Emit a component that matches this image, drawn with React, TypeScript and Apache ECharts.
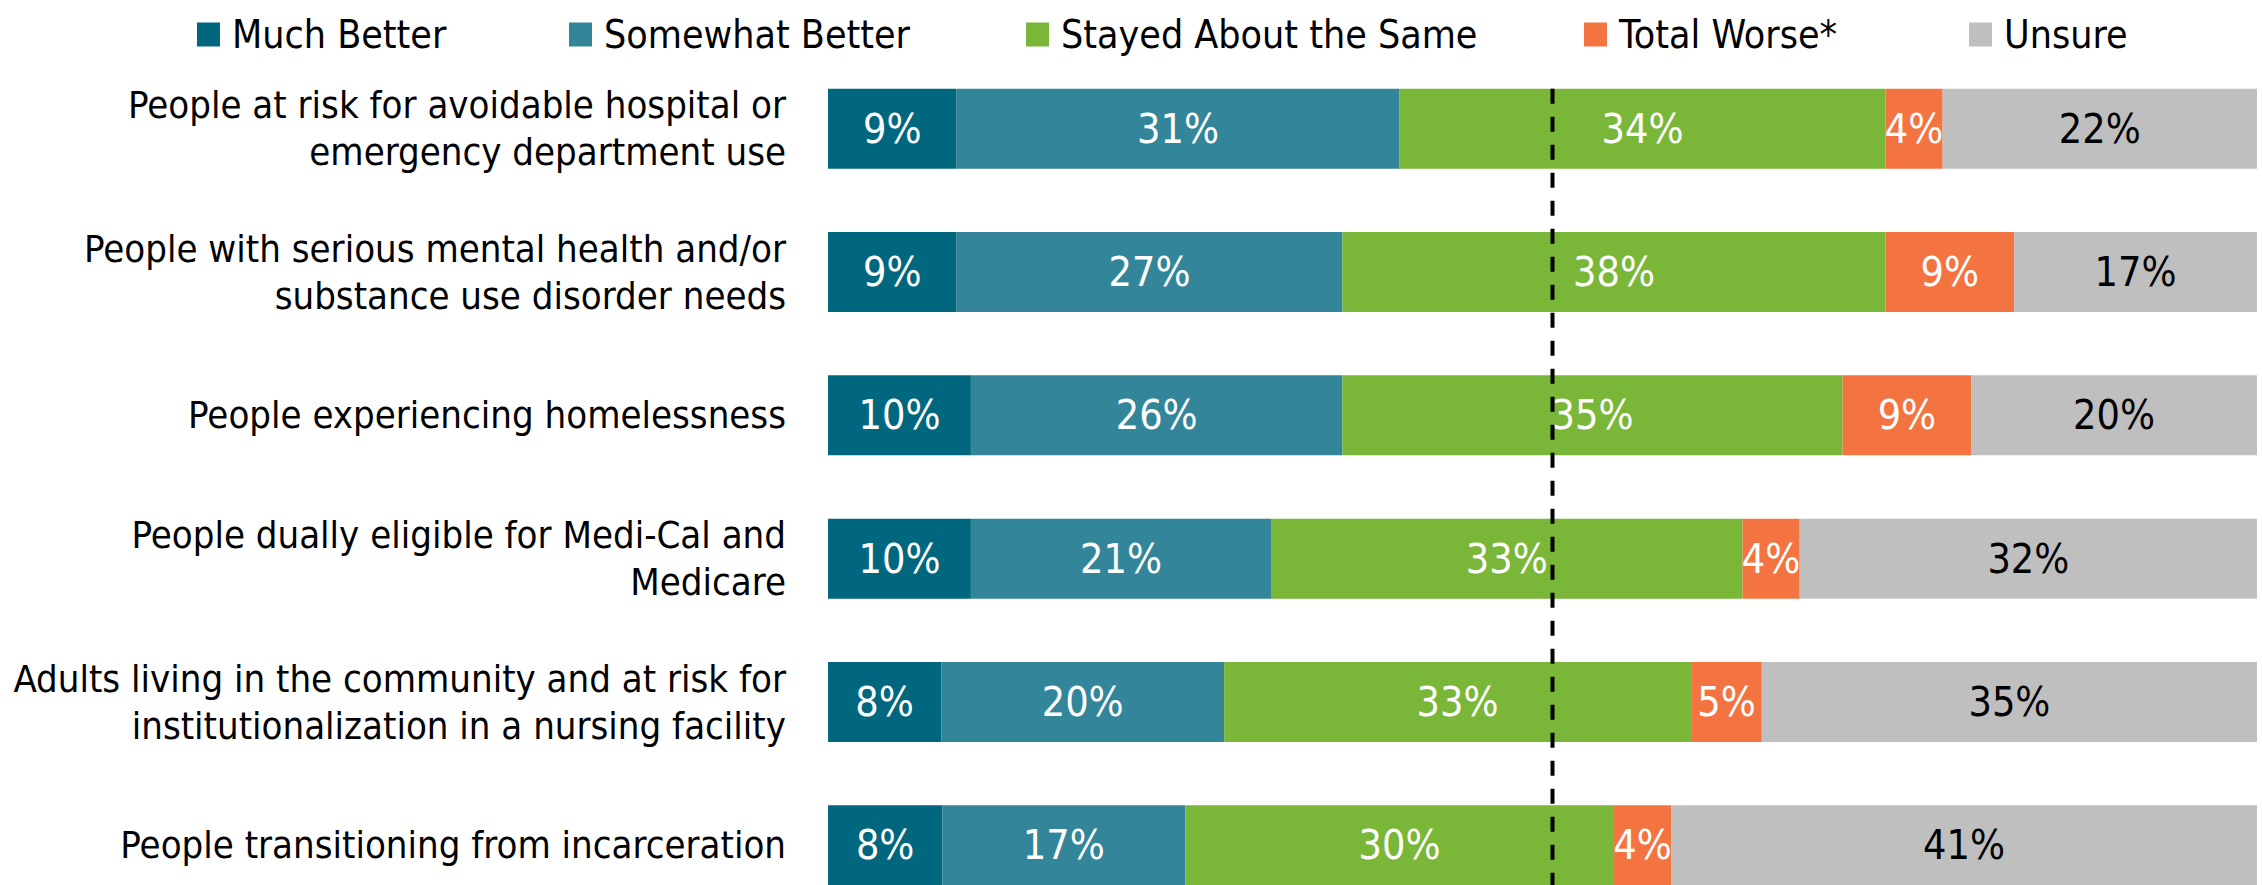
import { useEffect, useRef } from "react";
import * as echarts from "echarts";

const categories = [
  "People at risk for avoidable hospital or\nemergency department use",
  "People with serious mental health and/or\nsubstance use disorder needs",
  "People experiencing homelessness",
  "People dually eligible for Medi-Cal and\nMedicare",
  "Adults living in the community and at risk for\ninstitutionalization in a nursing facility",
  "People transitioning from incarceration",
];

const seriesNames = [
  "Much Better",
  "Somewhat Better",
  "Stayed About the Same",
  "Total Worse*",
  "Unsure",
];

const muchBetter = [9, 9, 10, 10, 8, 8];
const somewhatBetter = [31, 27, 26, 21, 20, 17];
const stayedSame = [34, 38, 35, 33, 33, 30];
const totalWorse = [4, 9, 9, 4, 5, 4];
const unsure = [22, 17, 20, 32, 35, 41];

const referenceLine = 50.7;

const colors = ["#00677F", "#33859A", "#7AB638", "#F37440", "#BFBFBF"];
const labelColors = ["#FFFFFF", "#FFFFFF", "#FFFFFF", "#FFFFFF", "#000000"];
const legendLefts = [197, 569, 1026, 1584, 1969];

const FONT = "'DejaVu Sans Condensed', Lato, sans-serif";

export default function App() {
  const ref = useRef<HTMLDivElement>(null);

  useEffect(() => {
    if (!ref.current) return;
    const chart = echarts.init(ref.current, undefined, { renderer: "svg" });
    const raw = [muchBetter, somewhatBetter, stayedSame, totalWorse, unsure];
    const rowSums = categories.map((_, i) => raw.reduce((s, arr) => s + arr[i], 0));
    const barWidth = 80;

    chart.setOption({
      animation: false,
      textStyle: { fontFamily: FONT },
      legend: seriesNames.map((name, i) => ({
        data: [name],
        left: legendLefts[i],
        top: 15,
        padding: 0,
        itemWidth: 23,
        itemHeight: 24,
        icon: "rect",
        selectedMode: false,
        textStyle: {
          fontSize: 39,
          color: "#000",
          fontFamily: FONT,
          padding: [0, 0, 0, 7],
        },
      })),
      grid: {
        left: 828,
        width: 1429,
        top: 57,
        height: 860,
        containLabel: false,
        outerBoundsMode: "none",
      },
      xAxis: {
        type: "value",
        min: 0,
        max: 100,
        show: false,
      },
      yAxis: {
        type: "category",
        inverse: true,
        data: categories,
        axisLine: { show: false },
        axisTick: { show: false },
        splitLine: { show: false },
        axisLabel: {
          fontSize: 38,
          lineHeight: 47,
          color: "#000",
          margin: 42,
          align: "right",
          fontFamily: FONT,
        },
      },
      series: raw.map((arr, si) => ({
        name: seriesNames[si],
        type: "bar",
        stack: "total",
        barWidth,
        itemStyle: { color: colors[si] },
        label: {
          show: true,
          position: "inside",
          fontSize: 41,
          color: labelColors[si],
          fontFamily: FONT,
          formatter: (p: any) => raw[si][p.dataIndex] + "%",
        },
        data: arr.map((v, i) => (v / rowSums[i]) * 100),
      })),
    });

    const x = chart.convertToPixel({ xAxisIndex: 0 }, referenceLine) as number;
    const yTop = (chart.convertToPixel({ yAxisIndex: 0 }, categories[0]) as number) - barWidth / 2;
    chart.setOption({
      graphic: [
        {
          type: "line",
          z: 100,
          shape: { x1: x, y1: yTop, x2: x, y2: 885 },
          style: { stroke: "#000", lineWidth: 4, lineDash: [15, 13] },
        },
      ],
    });

    return () => chart.dispose();
  }, []);

  return (
    <div
      ref={ref}
      style={{ position: "fixed", left: 0, top: 0, width: 2262, height: 885, background: "#fff" }}
    />
  );
}
